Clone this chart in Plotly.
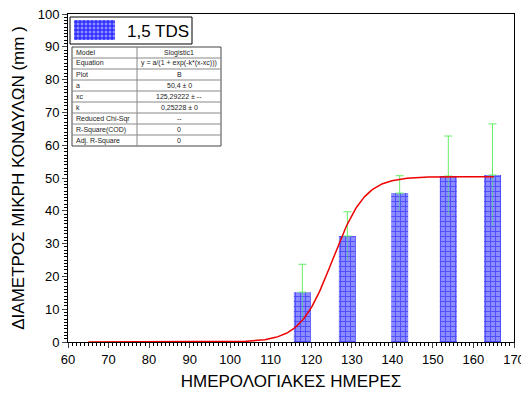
import numpy as np
import plotly.graph_objects as go

# ---- data ----
days = [117.8, 128.9, 141.8, 153.8, 164.7]
diam = [15.2, 32.3, 45.4, 50.6, 50.9]
err_plus = [8.5, 7.4, 5.3, 12.2, 15.6]
err_minus = [8.5, 7.4, 5.2, 11.9, 15.6]
series_name = "1,5 TDS"

# logistic fit parameters as printed in the chart
fit_a = 50.4
fit_xc = 125.29222
fit_k = 0.25228
fit_x_start = 65
fit_x_end = 165

table_labels = ["Model", "Equation", "Plot", "a", "xc", "k",
                "Reduced Chi-Sqr", "R-Square(COD)", "Adj. R-Square"]
table_values = ["Slogistic1", "y = a/(1 + exp(-k*(x-xc)))", "B", "50,4 ± 0",
                "125,29222 ± --", "0,25228 ± 0", "--", "0", "0"]

fit_x = np.linspace(fit_x_start, fit_x_end, 300)
fit_y = fit_a / (1 + np.exp(-fit_k * (fit_x - fit_xc)))

BAR_BG = "#8c8cff"
BAR_FG = "#1010ff"

fig = go.Figure()
fig.add_trace(go.Bar(
    x=days, y=diam, width=4.2, name=series_name,
    marker=dict(color=BAR_BG, line=dict(width=0),
                pattern=dict(shape="+", fgcolor=BAR_FG, bgcolor=BAR_BG, size=5, solidity=0.35)),
    error_y=dict(type="data", array=err_plus, arrayminus=[0]*5, color="#66ee66", thickness=1, width=4),
))
fig.add_trace(go.Scatter(
    x=days, y=diam, mode="markers", marker=dict(size=0.1, color="rgba(0,0,0,0)"),
    showlegend=False, hoverinfo="skip",
    error_y=dict(type="data", array=[0]*5, arrayminus=err_minus, color="rgba(80,220,120,0.6)", thickness=1, width=0),
))
fig.add_trace(go.Scatter(x=fit_x, y=fit_y, mode="lines", line=dict(color="#ee0000", width=1.5),
                         showlegend=False, hoverinfo="skip"))

# ---- helpers: window pixel -> paper coordinates ----
W, H = 446.0, 328.0
def px(x): return (x - 68) / W
def py(y): return (342 - y) / H

shapes = []
annotations = []

# ---- legend box drawn manually ----
lx0, lx1, ly0, ly1 = 70, 192, 17, 44
shapes.append(dict(type="rect", xref="paper", yref="paper", x0=px(lx0), x1=px(lx1), y0=py(ly1), y1=py(ly0),
                   line=dict(color="black", width=1), fillcolor="white", layer="above"))
sx0, sx1, sy0, sy1 = 74, 115, 20, 40
shapes.append(dict(type="rect", xref="paper", yref="paper", x0=px(sx0), x1=px(sx1), y0=py(sy1), y1=py(sy0),
                   line=dict(width=0), fillcolor=BAR_BG, layer="above"))
for gx in range(sx0 + 2, sx1, 4):
    shapes.append(dict(type="line", xref="paper", yref="paper", x0=px(gx), x1=px(gx), y0=py(sy1), y1=py(sy0),
                       line=dict(color=BAR_FG, width=1), layer="above"))
for gy in range(sy0 + 2, sy1, 4):
    shapes.append(dict(type="line", xref="paper", yref="paper", x0=px(sx0), x1=px(sx1), y0=py(gy), y1=py(gy),
                       line=dict(color=BAR_FG, width=1), layer="above"))
annotations.append(dict(xref="paper", yref="paper", x=px(125), y=py(31), text=series_name, showarrow=False,
                        xanchor="left", yanchor="middle", font=dict(size=17, color="black")))

# ---- fit table drawn as shapes + text ----
tx0, tx1, tdiv, ty0, ty1 = 72, 221, 137, 47, 146
rh = (ty1 - ty0) / len(table_labels)
shapes.append(dict(type="rect", xref="paper", yref="paper", x0=px(tx0), x1=px(tx1), y0=py(ty1), y1=py(ty0),
                   line=dict(color="#444", width=1), fillcolor="white", layer="above"))
shapes.append(dict(type="line", xref="paper", yref="paper", x0=px(tdiv), x1=px(tdiv), y0=py(ty1), y1=py(ty0),
                   line=dict(color="#888", width=1), layer="above"))
for i, (lab, val) in enumerate(zip(table_labels, table_values)):
    top = ty0 + i * rh
    if i > 0:
        shapes.append(dict(type="line", xref="paper", yref="paper", x0=px(tx0), x1=px(tx1), y0=py(top), y1=py(top),
                           line=dict(color="#888", width=1), layer="above"))
    annotations.append(dict(xref="paper", yref="paper", x=px(tx0 + 2), y=py(top + rh / 2), text=lab,
                            showarrow=False, xanchor="left", yanchor="middle",
                            font=dict(size=7, color="#222", family="Liberation Sans")))
    annotations.append(dict(xref="paper", yref="paper", x=px((tdiv + tx1) / 2), y=py(top + rh / 2), text=val,
                            showarrow=False, xanchor="center", yanchor="middle",
                            font=dict(size=7, color="#222", family="Liberation Sans")))

# page body has an 8px margin: figure is placed at (8, 8) in the window
fig.update_layout(
    width=521, height=388,
    margin=dict(l=60, r=15, t=6, b=54),
    paper_bgcolor="white", plot_bgcolor="white",
    font=dict(family="Liberation Sans", color="black", size=13),
    showlegend=False,
    shapes=shapes, annotations=annotations,
    xaxis=dict(range=[60, 170], dtick=10, tick0=60, ticks="outside", ticklen=5, tickwidth=1,
               showline=True, linecolor="black", linewidth=1, mirror=True, showgrid=False, zeroline=False,
               automargin=False, ticklabeloverflow="allow",
               minor=dict(dtick=1, ticks="outside", ticklen=3, tickcolor="black"),
               title=dict(text="ΗΜΕΡΟΛΟΓΙΑΚΕΣ ΗΜΕΡΕΣ", font=dict(size=17), standoff=9)),
    yaxis=dict(range=[0, 100], dtick=10, ticks="outside", ticklen=5, tickwidth=1,
               showline=True, linecolor="black", linewidth=1, mirror=True, showgrid=False, zeroline=False,
               automargin=False, ticklabeloverflow="allow",
               minor=dict(dtick=1, ticks="outside", ticklen=3, tickcolor="black"),
               title=dict(text="ΔΙΑΜΕΤΡΟΣ ΜΙΚΡΗ ΚΟΝΔΥΛΩΝ (mm )", font=dict(size=17), standoff=8)),
)
fig.write_html("out.html")
